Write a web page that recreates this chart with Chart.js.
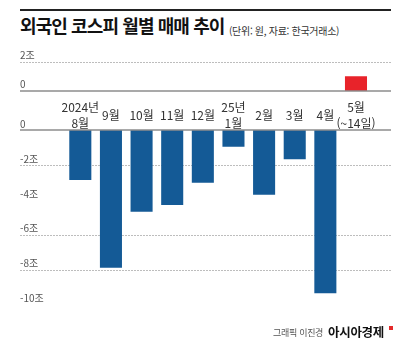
<!DOCTYPE html>
<html lang="ko">
<head>
  <meta charset="UTF-8">
  <meta name="viewport" content="width=device-width, initial-scale=1.0">
  <title>외국인 코스피 월별 매매 추이</title>
  <script src="https://cdn.jsdelivr.net/npm/chart.js"></script>
  <style>
    body {
      margin: 0;
      width: 400px;
      height: 346px;
      background: #fff;
      position: relative;
      overflow: hidden;
      font-family: "Noto Sans CJK KR", sans-serif;
    }
    .rule {
      position: absolute;
      left: 20px;
      top: 9px;
      width: 371px;
      height: 2px;
      background: #222;
    }
    h1 {
      position: absolute;
      left: 20px;
      top: 15px;
      margin: 0;
      font-size: 18px;
      line-height: 20px;
      font-weight: 700;
      letter-spacing: -0.9px;
      color: #111;
      white-space: nowrap;
    }
    .unit {
      position: absolute;
      left: 229px;
      top: 25px;
      font-size: 10px;
      line-height: 12px;
      letter-spacing: -0.3px;
      color: #333;
      white-space: nowrap;
    }
    canvas { position: absolute; left: 0; }
    #upper { top: 40px; }
    #lower { top: 87px; }
    .credit {
      position: absolute;
      top: 325px;
      line-height: 14px;
      white-space: nowrap;
    }
    .credit .who { position: absolute; left: 273px; top: 1px; font-size: 9px; color: #555; letter-spacing: -0.3px; }
    .credit .brand { position: absolute; left: 328px; font-size: 12.5px; font-weight: 700; color: #111; letter-spacing: -0.3px; }
    .credit .mark { position: absolute; left: 389px; top: 1px; width: 4px; height: 4px; background: #e42a2a; }
  </style>
</head>
<body>
  <div class="rule"></div>
  <h1>외국인 코스피 월별 매매 추이</h1>
  <div class="unit">(단위: 원, 자료: 한국거래소)</div>

  <canvas id="upper" width="400" height="60"></canvas>
  <canvas id="lower" width="400" height="230"></canvas>

  <div class="credit">
    <span class="who">그래픽 이진경</span>
    <span class="brand">아시아경제</span>
    <span class="mark"></span>
  </div>

  <script>
    // monthly net trading by foreigners on KOSPI, unit: 조 원
    const months = [['2024년', '8월'], '9월', '10월', '11월', '12월', ['25년', '1월'], '2월', '3월', '4월', ['5월', '(~14일)']];
    const netTrade = [-2.87, -7.9, -4.69, -4.3, -3.02, -0.96, -3.71, -1.68, -9.35, 1.02];

    // the value axis is broken in two: a short positive part and a long negative part
    const upperTicks = [0, 2];
    const lowerTicks = [0, -2, -4, -6, -8, -10];

    const BLUE = '#145a96';
    const RED = '#e8232a';

    Chart.defaults.font.family = "'Noto Sans CJK KR', sans-serif";

    // grid lines run past the plot area, like the original graphic
    const fullGrid = {
      id: 'fullGrid',
      beforeDatasetsDraw(chart, args, opts) {
        const y = chart.scales.y;
        const c = chart.ctx;
        c.save();
        c.strokeStyle = '#bdbdbd';
        c.lineWidth = 1;
        c.setLineDash([2, 1]);
        (opts.dotted || []).forEach(v => {
          const py = Math.round(y.getPixelForValue(v)) + 0.5;
          c.beginPath();
          c.moveTo(20, py);
          c.lineTo(391, py);
          c.stroke();
        });
        c.restore();
      },
      afterDatasetsDraw(chart) {
        const y = chart.scales.y;
        const c = chart.ctx;
        const py = y.getPixelForValue(0);
        c.save();
        c.strokeStyle = '#8c8c8c';
        c.lineWidth = 1.5;
        c.beginPath();
        c.moveTo(20, py);
        c.lineTo(391, py);
        c.stroke();
        c.restore();
      }
    };

    const yAxis = (min, max, tickValues, offset) => ({
      min: min,
      max: max,
      afterBuildTicks: s => { s.ticks = tickValues.map(v => ({ value: v })); },
      afterFit: s => { s.width = 45; },
      grid: { display: false },
      border: { display: false },
      ticks: {
        crossAlign: 'far',
        labelOffset: offset,
        color: '#555',
        font: { size: 10 },
        callback: v => (v === 0 ? '0' : v + '조')
      }
    });

    new Chart(document.getElementById('upper'), {
      type: 'bar',
      data: {
        labels: months,
        datasets: [{
          data: netTrade.map(v => (v > 0 ? v : null)),
          backgroundColor: RED,
          categoryPercentage: 1,
          barPercentage: 0.72
        }]
      },
      options: {
        responsive: false,
        animation: false,
        layout: { padding: { left: 20, right: 28.7, top: 22, bottom: 3 } },
        plugins: {
          legend: { display: false },
          tooltip: { enabled: false },
          fullGrid: { dotted: [2] }
        },
        scales: {
          x: { display: false },
          y: yAxis(0, 2, upperTicks, -7)
        }
      },
      plugins: [fullGrid]
    });

    new Chart(document.getElementById('lower'), {
      type: 'bar',
      data: {
        labels: months,
        datasets: [{
          data: netTrade.map(v => (v <= 0 ? v : null)),
          backgroundColor: BLUE,
          categoryPercentage: 1,
          barPercentage: 0.72
        }]
      },
      options: {
        responsive: false,
        animation: false,
        layout: { padding: { left: 20, right: 28.7, top: 10, bottom: 12.5 } },
        plugins: {
          legend: { display: false },
          tooltip: { enabled: false },
          fullGrid: { dotted: [-2, -6, -8] }
        },
        scales: {
          x: {
            position: 'top',
            afterFit: s => { s.height = 33; },
            grid: { display: false },
            border: { display: false },
            ticks: {
              autoSkip: false,
              maxRotation: 0,
              crossAlign: 'center',
              padding: -1.5,
              color: '#333',
              font: { size: 12, lineHeight: 1.3 }
            }
          },
          y: yAxis(-10, 0, lowerTicks, -6)
        }
      },
      plugins: [fullGrid]
    });
  </script>
</body>
</html>
